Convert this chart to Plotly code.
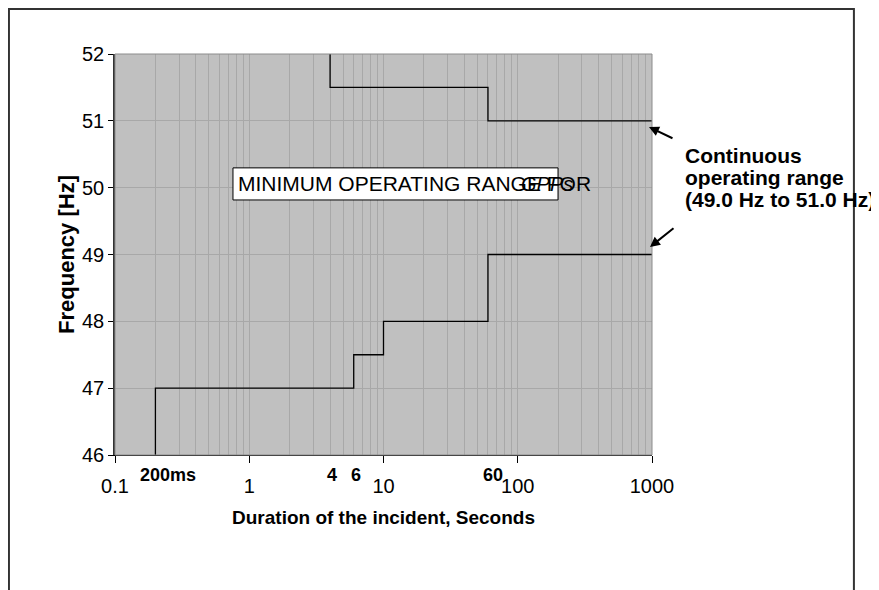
import numpy as np
import plotly.graph_objects as go

# ── Data ───────────────────────────────────────────────────────────────────────
# upper limit of the minimum operating range (duration in s, frequency in Hz)
UPPER_T = [4, 4, 60, 60, 1000]
UPPER_F = [52.0, 51.5, 51.5, 51.0, 51.0]

# lower limit
LOWER_T = [0.2, 0.2, 6, 6, 10, 10, 60, 60, 1000]
LOWER_F = [46.0, 47.0, 47.0, 47.5, 47.5, 48.0, 48.0, 49.0, 49.0]

X_TICKS = [0.1, 1, 10, 100, 1000]
X_TICK_TEXT = ["0.1", "1", "10", "100", "1000"]
Y_TICKS = [46, 47, 48, 49, 50, 51, 52]

# marked step durations shown under the axis
STEP_MARKS = [0.2, 4, 6, 60]
STEP_TEXT = ["200ms", "4", "6", "60"]

# minor grid: 2..9 in each decade
MINOR_X = [m * 10.0 ** d for d in range(-1, 3) for m in range(2, 10)]

FONT = "Arial, Liberation Sans, sans-serif"
PLOT_BG = "#C0C0C0"
GRID = "#A8A8A8"

fig = go.Figure()

fig.add_trace(go.Scatter(x=UPPER_T, y=UPPER_F, mode="lines",
                         line=dict(color="black", width=1.3), showlegend=False))
fig.add_trace(go.Scatter(x=LOWER_T, y=LOWER_F, mode="lines",
                         line=dict(color="black", width=1.3), showlegend=False))

# plot area border (grey top/right) and outer frame
fig.add_shape(type="rect", xref="paper", yref="paper", x0=0, x1=1, y0=0, y1=1,
              line=dict(color="#8C8C8C", width=1), layer="above")
fig.add_shape(type="rect", xref="paper", yref="paper",
              x0=-0.1975, x1=1.376, y0=-0.37, y1=1.112,
              line=dict(color="#333333", width=2))

# label box
fig.add_shape(type="rect", xref="paper", yref="paper",
              x0=0.2197, x1=0.825, y0=0.636, y1=0.716,
              fillcolor="white", line=dict(color="black", width=1), layer="above")

annotations = [
    dict(text="MINIMUM OPERATING RANGE FOR", x=0.225, y=0.676, xanchor="left",
         font=dict(size=21, color="black", family=FONT)),
    dict(text="<i>GPPs</i>", x=0.752, y=0.676, xanchor="left",
         font=dict(size=20, color="black", family=FONT)),
    dict(text="<b>Continuous</b>", x=1.0577, y=0.748, xanchor="left",
         font=dict(size=21, color="black", family=FONT)),
    dict(text="<b>operating range</b>", x=1.0577, y=0.691, xanchor="left",
         font=dict(size=21, color="black", family=FONT)),
    dict(text="<b>(49.0 Hz to 51.0 Hz)</b>", x=1.0577, y=0.636, xanchor="left",
         font=dict(size=21, color="black", family=FONT)),
]
for a in annotations:
    a.update(xref="paper", yref="paper", yanchor="middle", showarrow=False)

# arrows to continuous range limits
for hx, hy, ax, ay in [(0.9944, 0.818, 25, 12), (0.9963, 0.5187, 25, -20)]:
    annotations.append(dict(x=hx, y=hy, xref="paper", yref="paper", text="",
                            showarrow=True, ax=ax, ay=ay, arrowhead=2,
                            arrowsize=1, arrowwidth=2, arrowcolor="black"))

# step labels sit slightly right of their step
label_shift = {"200ms": 13, "4": 2, "6": 2, "60": 5}
for t, s in zip(STEP_MARKS, STEP_TEXT):
    annotations.append(dict(x=np.log10(t), y=-0.05, xref="x", yref="paper",
                            text=f"<b>{s}</b>", showarrow=False,
                            xanchor="center", yanchor="middle",
                            xshift=label_shift.get(s, 0),
                            font=dict(size=18, color="black", family=FONT)))

# page body adds an 8px offset, so margins are shifted to compensate
fig.update_layout(
    width=879, height=590,
    margin=dict(l=107, r=235, t=46, b=143),
    paper_bgcolor="white",
    plot_bgcolor=PLOT_BG,
    font=dict(family=FONT, color="black"),
    annotations=annotations,
    showlegend=False,
)

fig.update_xaxes(
    type="log", range=[-1, 3],
    tickvals=X_TICKS, ticktext=X_TICK_TEXT,
    ticks="outside", ticklen=7, tickcolor="black", tickwidth=1,
    ticklabelstandoff=6,
    tickfont=dict(size=20, family=FONT, color="black"),
    showline=True, linecolor="black", linewidth=1.3,
    showgrid=True, gridcolor=GRID, gridwidth=1,
    minor=dict(tickvals=MINOR_X, showgrid=True, gridcolor=GRID, gridwidth=1, ticks=""),
    zeroline=False,
    title=dict(text="<b>Duration of the incident, Seconds</b>",
               font=dict(size=19, family=FONT, color="black"), standoff=14),
)
fig.update_yaxes(
    range=[46, 52], tickvals=Y_TICKS,
    ticks="outside", ticklen=5, tickcolor="black", tickwidth=1,
    tickfont=dict(size=20, family=FONT, color="black"),
    showline=True, linecolor="#333333", linewidth=1.5,
    showgrid=True, gridcolor=GRID, gridwidth=1,
    zeroline=False,
    title=dict(text="<b>Frequency [Hz]</b>",
               font=dict(size=22, family=FONT, color="black"), standoff=1),
)

fig.write_html("out.html")
